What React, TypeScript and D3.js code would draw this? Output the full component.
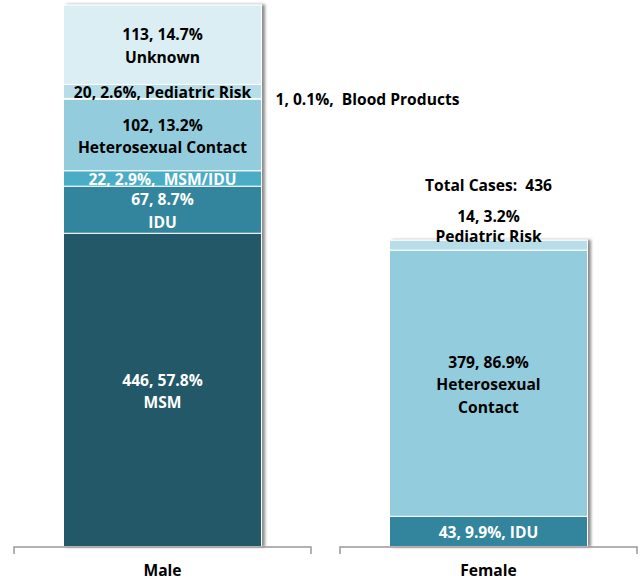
import React from "react";
import * as d3 from "d3";

const W = 641;
const H = 582;

// chart data
const categories = ["Male", "Female"];
const riskKeys = [
  "MSM",
  "IDU",
  "MSM/IDU",
  "Heterosexual Contact",
  "Blood Products",
  "Pediatric Risk",
  "Unknown",
];
const maleCases = [446, 67, 22, 102, 1, 20, 113];
const malePercents = ["57.8%", "8.7%", "2.9%", "13.2%", "0.1%", "2.6%", "14.7%"];
const femaleCases = [0, 43, 0, 379, 0, 14, 0];
const femalePercents = ["", "9.9%", "", "86.9%", "", "3.2%", ""];
const femaleTotal = 436;
const riskColors = ["#215968", "#31859c", "#4bacc6", "#93cddd", "#a9d8e4", "#b7dee8", "#dbeef3"];
const darkRisks = ["MSM", "IDU", "MSM/IDU"];

const FONT = "'Open Sans', Lato, sans-serif";
const FS = 15.6;

const rows = categories.map((c, ci) => {
  const row: any = { category: c };
  riskKeys.forEach((k, i) => {
    row[k] = ci === 0 ? maleCases[i] : femaleCases[i];
  });
  return row;
});

// how each segment's label is written
const labelLines = (cat: string, key: string, n: number, pct: string) => {
  if (cat === "Male") {
    if (key === "MSM/IDU") return { mode: "in", lines: [`${n}, ${pct},  ${key}`] };
    if (key === "Pediatric Risk") return { mode: "in", lines: [`${n}, ${pct}, ${key}`] };
    if (key === "Blood Products") return { mode: "right", lines: [`${n}, ${pct},  ${key}`] };
    return { mode: "in", lines: [`${n}, ${pct}`, key] };
  }
  if (key === "IDU") return { mode: "in", lines: [`${n}, ${pct}, ${key}`] };
  if (key === "Heterosexual Contact") return { mode: "in", lines: [`${n}, ${pct}`, "Heterosexual", "Contact"] };
  return { mode: "above", lines: [`${n}, ${pct}`, key] };
};

export default function App() {
  const margin = { top: 5, bottom: 35, left: 14, right: 4 };
  const x = d3
    .scaleBand()
    .domain(categories)
    .range([margin.left, W - margin.right])
    .paddingInner(0.089)
    .paddingOuter(0);
  const barW = 198;

  const stacked = d3.stack().keys(riskKeys)(rows);
  const maxTotal = d3.max(rows, (r: any) => d3.sum(riskKeys, (k) => r[k])) as number;
  const y = d3
    .scaleLinear()
    .domain([0, maxTotal])
    .range([H - margin.bottom - 0.5, margin.top]);

  const color = d3.scaleOrdinal<string, string>().domain(riskKeys).range(riskColors);
  const lineH = 22.5;

  const segments: any[] = [];
  stacked.forEach((layer: any, ki: number) => {
    layer.forEach((d: any, ci: number) => {
      const cat = categories[ci];
      const n = d[1] - d[0];
      if (n <= 0) return;
      segments.push({
        key: layer.key,
        cat,
        n,
        pct: ci === 0 ? malePercents[ki] : femalePercents[ki],
        y0: y(d[0]),
        y1: y(d[1]),
        x0: (x(cat) as number) + (x.bandwidth() - barW) / 2,
      });
    });
  });

  const femaleTop = y(femaleTotal);
  const axisY = y(0) + 0.5;

  return (
    <svg width={W} height={H} style={{ position: "absolute", left: 0, top: 0 }} fontFamily={FONT}>
      <defs>
        <filter id="shadow" x="-10%" y="-5%" width="125%" height="110%">
          <feDropShadow dx="3" dy="0" stdDeviation="1.5" floodColor="#000" floodOpacity="0.45" />
        </filter>
      </defs>
      <rect width={W} height={H} fill="#fff" />
      {categories.map((c) => {
        const segs = segments.filter((s) => s.cat === c);
        return (
          <g key={c} filter="url(#shadow)">
            {segs.map((s) => (
              <rect
                key={s.key}
                x={s.x0}
                y={s.y1}
                width={barW}
                height={s.y0 - s.y1}
                fill={color(s.key)}
                stroke="#fff"
                strokeWidth={1}
              />
            ))}
          </g>
        );
      })}

      {segments.map((s) => {
        const { mode, lines } = labelLines(s.cat, s.key, s.n, s.pct);
        const cx = s.x0 + barW / 2;
        const fill = darkRisks.includes(s.key) ? "#fff" : "#000";
        let start = 0;
        let anchor = "middle";
        let tx = cx;
        if (mode === "in") {
          const mid = (s.y0 + s.y1) / 2;
          start = mid - ((lines.length - 1) * lineH) / 2 + 1;
        } else if (mode === "right") {
          tx = s.x0 + barW + 14;
          anchor = "start";
          start = (s.y0 + s.y1) / 2;
        } else {
          start = s.y1 - 4 - (lines.length - 1) * 20;
        }
        return (
          <text
            key={s.cat + s.key}
            x={tx}
            textAnchor={anchor}
            fontSize={FS}
            fontWeight="bold"
            fill={mode === "in" ? fill : "#000"}
            dominantBaseline="central"
          >
            {lines.map((l, i) => (
              <tspan key={i} x={tx} y={start + i * (mode === "above" ? 20 : lineH)} style={{ whiteSpace: "pre" }}>
                {l}
              </tspan>
            ))}
          </text>
        );
      })}

      <text
        x={(x("Female") as number) + x.bandwidth() / 2}
        y={femaleTop - 55}
        textAnchor="middle"
        dominantBaseline="central"
        fontSize={FS}
        fontWeight="bold"
        style={{ whiteSpace: "pre" }}
      >
        {`Total Cases:  ${femaleTotal}`}
      </text>

      {categories.map((c) => {
        const b0 = x(c) as number;
        const b1 = b0 + x.bandwidth();
        return (
          <g key={c}>
            <path
              d={`M${b0},${axisY + 7}V${axisY}H${b1}V${axisY + 7}`}
              fill="none"
              stroke="#999"
              strokeWidth={1.5}
            />
            <text
              x={(b0 + b1) / 2}
              y={axisY + 23}
              textAnchor="middle"
              dominantBaseline="central"
              fontSize={FS}
              fontWeight="bold"
            >
              {c}
            </text>
          </g>
        );
      })}
    </svg>
  );
}
